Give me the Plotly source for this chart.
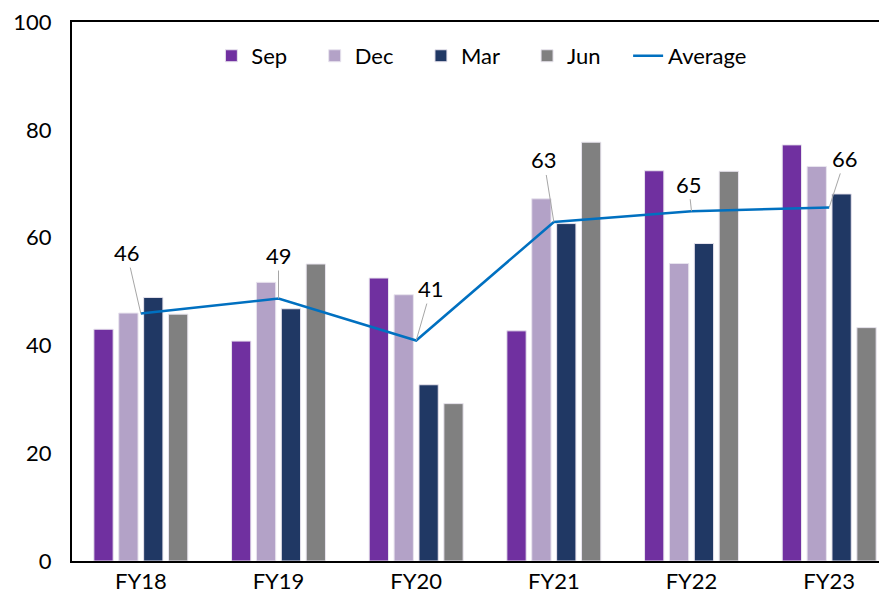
import plotly.graph_objects as go

categories = ["FY18", "FY19", "FY20", "FY21", "FY22", "FY23"]
sep = [43.0, 40.8, 52.5, 42.7, 72.4, 77.2]
dec = [46.0, 51.7, 49.4, 67.2, 55.2, 73.2]
mar = [48.9, 46.8, 32.7, 62.6, 58.9, 68.1]
jun = [45.8, 55.1, 29.2, 77.7, 72.3, 43.3]
average = [45.9, 48.7, 40.9, 62.9, 64.9, 65.6]
label_offsets = [(-14, -61), (0, -43), (15, -52), (-10, -62), (-3, -27), (16, -49)]
y_ticks = [0, 20, 40, 60, 80, 100]

FONT = "Lato, 'Open Sans', sans-serif"
colors = {"Sep": "#7030A0", "Dec": "#B3A2C7", "Mar": "#203864", "Jun": "#808080"}
PAD = "\u00a0" * 4

fig = go.Figure()
for name, vals in [("Sep", sep), ("Dec", dec), ("Mar", mar), ("Jun", jun)]:
    fig.add_trace(go.Bar(
        x=categories, y=vals, name=name + PAD,
        marker=dict(color=colors[name], line=dict(color="#E8E4EE", width=1)),
    ))
fig.add_trace(go.Scatter(
    x=categories, y=average, name="Average", mode="lines",
    line=dict(color="#0070C0", width=2.5),
))

for cat, val, (ax, ay) in zip(categories, average, label_offsets):
    fig.add_annotation(
        x=cat, y=val, text=str(int(round(val))),
        showarrow=True, arrowhead=0, arrowwidth=1, arrowcolor="#A6A6A6",
        ax=ax, ay=ay, font=dict(family=FONT, size=22, color="#000000"),
    )

fig.update_layout(
    width=879, height=595,
    margin=dict(l=64, r=0, t=10, b=42),
    paper_bgcolor="white", plot_bgcolor="white",
    barmode="group", bargap=0.277, bargroupgap=0.225,
    font=dict(family=FONT, size=22, color="#000000"),
    showlegend=True,
    legend=dict(
        orientation="h", x=0.171, y=0.937, xanchor="left", yanchor="middle",
        font=dict(family=FONT, size=22, color="#000000"),
        bgcolor="rgba(0,0,0,0)", itemwidth=30,
    ),
)
fig.update_xaxes(
    type="category", range=[-0.5, 5.42],
    showline=True, linecolor="#000000", linewidth=2, mirror=True,
    showgrid=False, ticks="", ticklabelstandoff=0,
    tickfont=dict(family=FONT, size=22, color="#000000"),
)
fig.update_yaxes(
    range=[0, 100], tickvals=y_ticks,
    showline=True, linecolor="#000000", linewidth=2, mirror=False,
    showgrid=False, zeroline=False, ticks="", ticklabelstandoff=14,
    ticklabeloverflow="allow",
    tickfont=dict(family=FONT, size=22, color="#000000"),
)

fig.write_html("out.html")
